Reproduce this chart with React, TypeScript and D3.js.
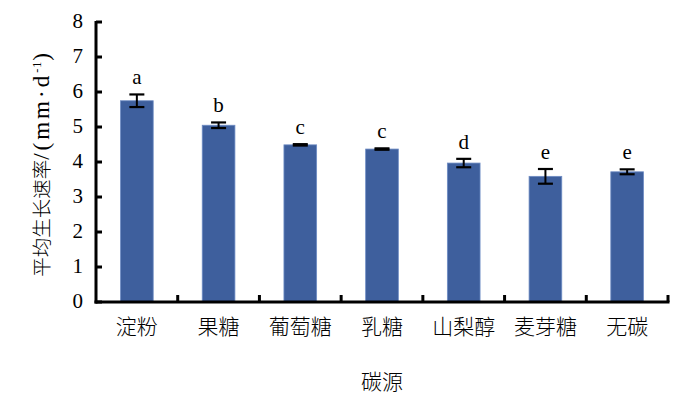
import React from "react";
import * as d3 from "d3";

const categories = ["淀粉", "果糖", "葡萄糖", "乳糖", "山梨醇", "麦芽糖", "无碳"];
const values = [5.75, 5.05, 4.49, 4.37, 3.97, 3.59, 3.72];
const errors = [0.18, 0.08, 0.02, 0.02, 0.12, 0.21, 0.07];
const letters = ["a", "b", "c", "c", "d", "e", "e"];
const yTicks = [0, 1, 2, 3, 4, 5, 6, 7, 8];

const W = 700, H = 395;
const left = 96, right = 668, top = 22, bottom = 302;
const serif = "'Liberation Serif', 'Times New Roman', serif";
const cjk = "'Noto Sans CJK SC', sans-serif";

export default function App() {
  const x = d3.scaleBand<string>().domain(categories).range([left, right]).paddingInner(0.6).paddingOuter(0.3);
  const y = d3.scaleLinear().domain([0, 8]).range([bottom, top]);
  const boundaries = d3.range(categories.length + 1).map((i) => left + (i * (right - left)) / categories.length);
  return (
    <svg width={W} height={H} style={{ position: "absolute", left: 0, top: 0, background: "#fff" }}>
      {categories.map((c, i) => {
        const cx = x(c)! + x.bandwidth() / 2;
        return (
          <g key={c}>
            <rect x={x(c)!} y={y(values[i])} width={x.bandwidth()} height={y(0) - y(values[i])}
              fill="#3E5F9D" stroke="#6E8CC4" strokeWidth={0.8} />
            <line x1={cx} x2={cx} y1={y(values[i] + errors[i])} y2={y(values[i] - errors[i])} stroke="#000" strokeWidth={2} />
            <line x1={cx - 7.5} x2={cx + 7.5} y1={y(values[i] + errors[i])} y2={y(values[i] + errors[i])} stroke="#000" strokeWidth={2.2} />
            <line x1={cx - 7.5} x2={cx + 7.5} y1={y(values[i] - errors[i])} y2={y(values[i] - errors[i])} stroke="#000" strokeWidth={2.2} />
            <text x={cx} y={y(values[i] + errors[i]) - 10} textAnchor="middle"
              fontFamily={serif} fontSize={21} fill="#000">{letters[i]}</text>
            <text x={cx} y={334} textAnchor="middle" fontFamily={cjk} fontWeight={300}
              fontSize={21} fill="#000">{c}</text>
          </g>
        );
      })}
      <line x1={left} x2={left} y1={top - 1} y2={bottom + 1.5} stroke="#000" strokeWidth={3} />
      {yTicks.map((t) => (
        <g key={t}>
          <line x1={left} x2={left + 6} y1={y(t)} y2={y(t)} stroke="#000" strokeWidth={3} />
          <text x={83} y={y(t) + 5.5} textAnchor="end" fontFamily={serif} fontSize={21} fill="#000">{t}</text>
        </g>
      ))}
      <line x1={left - 1.5} x2={right + 1.5} y1={bottom} y2={bottom} stroke="#000" strokeWidth={3} />
      {boundaries.slice(1).map((b, i) => (
        <line key={i} x1={b} x2={b} y1={bottom} y2={bottom - 7} stroke="#000" strokeWidth={3} />
      ))}
      <text x={(left + right) / 2} y={389} textAnchor="middle" fontFamily={cjk} fontWeight={300}
        fontSize={21} fill="#000">碳源</text>
      <text transform={`translate(48.5,165) rotate(-90)`} textAnchor="middle" fill="#000">
        <tspan fontFamily={cjk} fontWeight={300} fontSize={19.5}>平均生长速率</tspan>
        <tspan fontFamily={serif} fontSize={23} letterSpacing={3}>/(mm·d</tspan>
        <tspan fontFamily={serif} fontSize={12} letterSpacing={1} dy={-8}>-1</tspan>
        <tspan fontFamily={serif} fontSize={23} dy={8}>)</tspan>
      </text>
    </svg>
  );
}
